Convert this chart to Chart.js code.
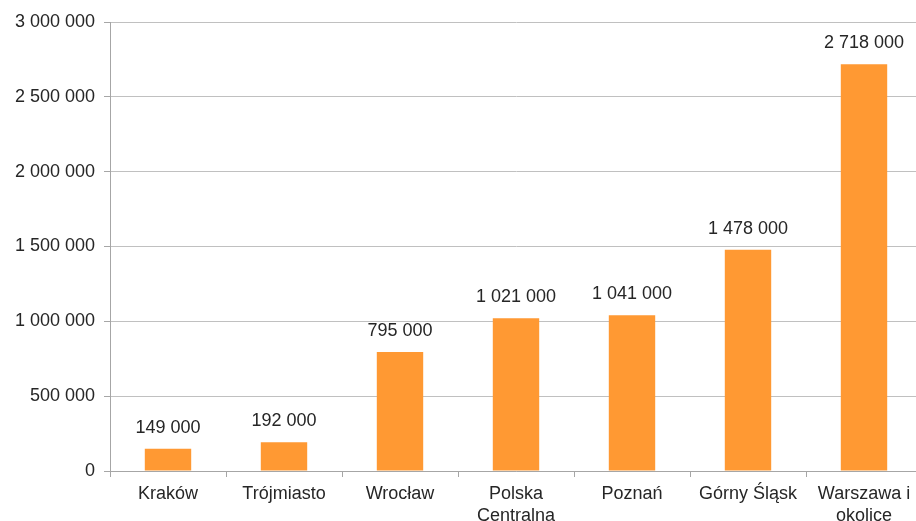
<!DOCTYPE html>
<html>
<head>
<meta charset="utf-8">
<script src="https://cdn.jsdelivr.net/npm/chart.js@4"></script>
<style>
  html, body { margin: 0; padding: 0; background: #fff; overflow: hidden; }
  #wrap { width: 916px; height: 521px; overflow: hidden; }
</style>
</head>
<body>
<div id="wrap"><canvas id="chart" width="922" height="521"></canvas></div>
<script>
// regions and their counts
const regions = ['Kraków', 'Trójmiasto', 'Wrocław', ['Polska', 'Centralna'], 'Poznań', 'Górny Śląsk', ['Warszawa i', 'okolice']];
const counts = [149000, 192000, 795000, 1021000, 1041000, 1478000, 2718000];
const yTicks = [0, 500000, 1000000, 1500000, 2000000, 2500000, 3000000];

const textColor = '#262626';
const fontFamily = '"Liberation Sans", Arial, sans-serif';

function fmt(v) {
  return String(v).replace(/\B(?=(\d{3})+(?!\d))/g, ' ');
}

// draws the value above each bar
const valueLabels = {
  id: 'valueLabels',
  afterDatasetsDraw(chart) {
    const ctx = chart.ctx;
    const meta = chart.getDatasetMeta(0);
    ctx.save();
    ctx.font = '18px ' + fontFamily;
    ctx.fillStyle = textColor;
    ctx.textAlign = 'center';
    ctx.textBaseline = 'middle';
    meta.data.forEach((bar, i) => {
      ctx.fillText(fmt(counts[i]), bar.x, bar.y - 21);
    });
    ctx.restore();
  }
};

new Chart(document.getElementById('chart'), {
  type: 'bar',
  data: {
    labels: regions,
    datasets: [{
      data: counts,
      backgroundColor: '#FF9933',
      borderWidth: 0,
      barPercentage: 0.4,
      categoryPercentage: 1
    }]
  },
  options: {
    responsive: false,
    animation: false,
    layout: { padding: { top: 22, left: 0, right: 0, bottom: 0 } },
    plugins: {
      legend: { display: false },
      tooltip: { enabled: false }
    },
    scales: {
      x: {
        grid: {
          display: true,
          drawOnChartArea: false,
          drawTicks: true,
          tickLength: 6,
          tickColor: '#a6a6a6',
          offset: true
        },
        border: { display: true, color: '#a6a6a6' },
        ticks: {
          color: textColor,
          padding: 6,
          maxRotation: 0,
          autoSkip: false,
          font: { family: fontFamily, size: 18, lineHeight: 1.22 }
        },
        afterFit(scale) { scale.height = 50; }
      },
      y: {
        min: 0,
        max: 3000000,
        afterBuildTicks(scale) { scale.ticks = yTicks.map(v => ({ value: v })); },
        grid: {
          color: '#c0c0c0',
          tickColor: '#a6a6a6',
          tickLength: 6
        },
        border: { display: true, color: '#a6a6a6' },
        ticks: {
          color: textColor,
          padding: 9,
          font: { family: fontFamily, size: 18 },
          callback: v => fmt(v)
        },
        afterFit(scale) { scale.width = 110; }
      }
    }
  },
  plugins: [valueLabels]
});
</script>
</body>
</html>
